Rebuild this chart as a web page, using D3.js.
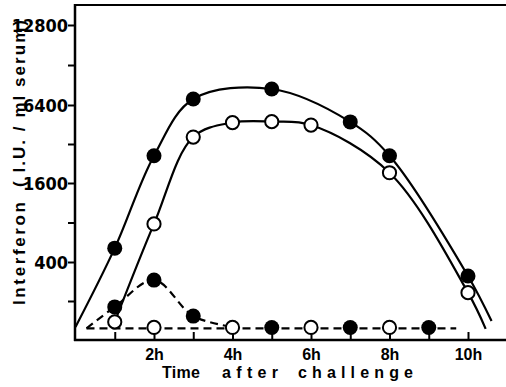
<!DOCTYPE html>
<meta charset="utf-8">
<script src="https://d3js.org/d3.v7.min.js"></script>
<style>
  body { margin: 0; background: #fff; }
  text { font-family: "Liberation Sans", Arial, sans-serif; font-weight: bold; fill: #000; }
</style>
<svg width="506" height="387"></svg>

<script>

// hours after challenge, interferon titre (I.U./ml serum)
var hoursA = [1, 2, 3, 5, 7, 8, 10];
var titreA = [510, 2600, 6740, 7350, 4740, 2600, 312];          // filled, solid curve

var hoursB = [1, 2, 3, 4, 5, 6, 8, 10];
var titreB = [138, 780, 3620, 4680, 4760, 4480, 1920, 232];     // open, solid curve

var hoursC = [1, 2, 3, 5, 7, 9];
var titreC = [180, 290, 153, 125, 125, 125];                    // filled, dashed curve

var hoursD = [2, 4, 6, 8];
var titreD = [125, 125, 125, 125];                              // open, dashed baseline

// ends of the hand drawn curves (no symbols there)
var curveA = [[0, 126], [1, 510], [2, 2600], [3, 6740], [5, 7350], [7, 4740], [8, 2600], [10, 312], [10.6, 140]];
var curveB = [[1, 138], [2, 780], [3, 3620], [4, 4680], [5, 4760], [6, 4480], [8, 1920], [10, 232], [10.45, 122]];
var curveC = [[0.28, 123], [1, 180], [2, 290], [3, 153], [4, 126]];
var curveD = [[0.28, 123], [9.7, 123]];

var yLabels = [400, 1600, 6400, 12800];
var yMinor = [200, 800, 3200, 9050];
var xTicks = [1, 2, 3, 4, 5, 6, 7, 8, 9, 10];

var svg = d3.select("svg");

var x = d3.scaleLinear()
    .domain([0, 11])
    .range([75.5, 507.25]);

// the printed axis is not a clean log scale (12800 sits one doubling above 6400)
var y = d3.scaleLog()
    .domain([100, 400, 1600, 6400, 12800, 15200])
    .range([340, 262, 183, 105, 25, 5]);

// top line of the frame
svg.append("line")
    .attr("x1", 75).attr("x2", 506)
    .attr("y1", y(15200)).attr("y2", y(15200))
    .attr("stroke", "#000").attr("stroke-width", 2);

// Y axis, ticks pointing out
var yAxis = svg.append("g")
    .attr("transform", "translate(75,0)")
    .call(d3.axisLeft(y).tickValues(yLabels).tickSize(7).tickSizeOuter(0)
      .tickPadding(0).tickFormat(d3.format("d")));
yAxis.select(".domain").remove();
yAxis.selectAll("line").attr("stroke-width", 2);
yAxis.selectAll("text")
    .attr("font-family", null)
    .attr("dy", "0.36em")
    .style("font-family", "'Liberation Sans Narrow', 'DejaVu Sans Condensed', sans-serif")
    .style("font-size", "18px");

var yAxisMinor = svg.append("g")
    .attr("transform", "translate(75,0)")
    .call(d3.axisLeft(y).tickValues(yMinor).tickSize(7).tickFormat(""));
yAxisMinor.select(".domain").remove();
yAxisMinor.selectAll("line").attr("stroke-width", 2);

svg.append("line")
    .attr("x1", 75).attr("x2", 75)
    .attr("y1", y(15200) - 1).attr("y2", 341)
    .attr("stroke", "#000").attr("stroke-width", 2.5);

// X axis, ticks pointing in
var xAxis = svg.append("g")
    .attr("transform", "translate(0,340)")
    .call(d3.axisBottom(x).tickValues(xTicks).tickSize(-8).tickSizeOuter(0)
      .tickPadding(9).tickFormat(function(d) { return d % 2 == 0 ? d + "h" : ""; }));
xAxis.select(".domain").remove();
xAxis.selectAll("line").attr("stroke-width", 2);
xAxis.selectAll("text").attr("font-family", null).style("font-size", "16px");

svg.append("line")
    .attr("x1", 74).attr("x2", 506)
    .attr("y1", 340).attr("y2", 340)
    .attr("stroke", "#000").attr("stroke-width", 2.5);

// axis titles, stretched to the widths of the printed words
var xTitle = [["Time", 162, 38], ["after", 222, 56], ["challenge", 298, 115]];
xTitle.forEach(function(w) {
  svg.append("text")
    .attr("x", w[1])
    .attr("y", 378)
    .attr("textLength", w[2])
    .attr("lengthAdjust", "spacing")
    .style("font-size", "16px")
    .text(w[0]);
});

var yTitle = [["Interferon", 305, 103], ["( I.U. / ml serum)", 187, 167]];
yTitle.forEach(function(w) {
  svg.append("text")
    .attr("transform", "translate(25," + w[1] + ") rotate(-90)")
    .attr("textLength", w[2])
    .attr("lengthAdjust", "spacing")
    .style("font-size", "17px")
    .text(w[0]);
});

// curves
var line = d3.line()
    .x(function(d) { return x(d[0]); })
    .y(function(d) { return y(d[1]); })
    .curve(d3.curveCatmullRom.alpha(0.5));

[curveA, curveB].forEach(function(c) {
  svg.append("path")
    .attr("d", line(c))
    .attr("fill", "none")
    .attr("stroke", "#000")
    .attr("stroke-width", 2.2);
});

[curveC, curveD].forEach(function(c) {
  svg.append("path")
    .attr("d", line(c))
    .attr("fill", "none")
    .attr("stroke", "#000")
    .attr("stroke-width", 2.2)
    .attr("stroke-dasharray", "8,5");
});

// symbols
function dots(hours, titre, filled) {
  svg.append("g")
    .selectAll("circle")
    .data(hours)
    .enter()
    .append("circle")
      .attr("cx", function(d) { return x(d); })
      .attr("cy", function(d, i) { return y(titre[i]); })
      .attr("r", filled ? 7.5 : 6.6)
      .attr("fill", filled ? "#000" : "#fff")
      .attr("stroke", "#000")
      .attr("stroke-width", filled ? 0 : 2);
}

dots(hoursB, titreB, false);
dots(hoursD, titreD, false);
dots(hoursA, titreA, true);
dots(hoursC, titreC, true);

</script>
